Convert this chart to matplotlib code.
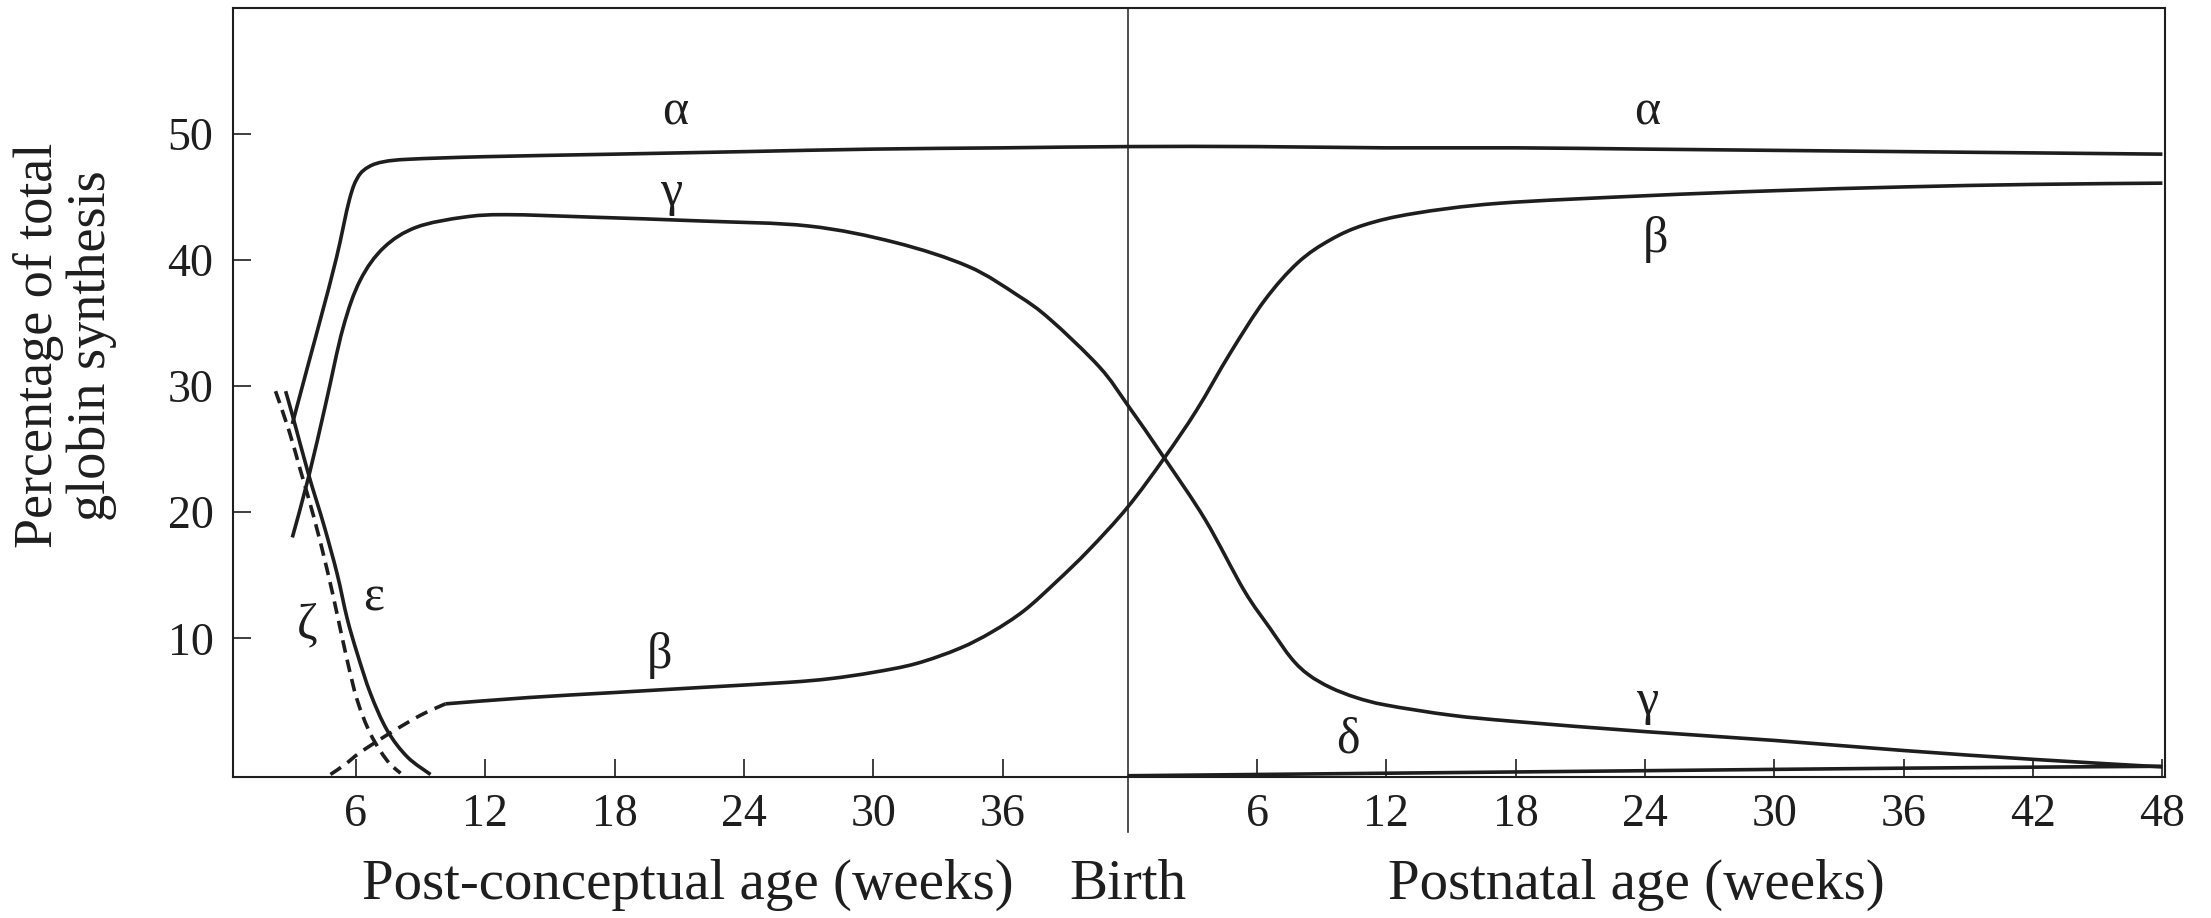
import matplotlib
matplotlib.use("Agg")
import matplotlib.pyplot as plt
import matplotlib.transforms as mtransforms
from matplotlib.path import Path
from matplotlib.patches import PathPatch

plt.rcParams['font.family'] = ['Liberation Serif', 'DejaVu Serif']

# birth position on the post-conceptual week scale
BIRTH = 41.8

# alpha chain
alpha_pre_x = [3.05, 3.8, 4.4, 5.1, 5.7, 6.1, 6.6, 7.3, 8.5, 12, 18, 24, 30, 36, 41.8]
alpha_pre_y = [27.0, 31.8, 35.6, 40.2, 44.8, 46.6, 47.4, 47.8, 48.0, 48.2, 48.4, 48.6, 48.8, 48.9, 49.0]
alpha_post_wk = [0, 6, 12, 18, 24, 30, 36, 42, 48]
alpha_post_y = [49.0, 49.0, 48.9, 48.9, 48.8, 48.7, 48.6, 48.5, 48.4]

# gamma chain
gamma_pre_x = [3.05, 3.82, 4.6, 5.4, 6.2, 7.3, 8.8, 11.0, 13, 17, 22, 27, 31, 34.4, 36.7, 38.2, 40.5, 41.8]
gamma_pre_y = [18.0, 22.9, 28.6, 34.6, 38.4, 41.0, 42.6, 43.4, 43.6, 43.4, 43.1, 42.7, 41.4, 39.5, 37.2, 35.3, 31.5, 28.5]
gamma_post_wk = [0, 1.7, 3.6, 5.4, 6.6, 7.6, 8.4, 9.4, 10.6, 12, 15, 18, 24, 30, 36, 42, 48]
gamma_post_y = [28.5, 24.3, 19.4, 13.8, 10.8, 8.4, 7.1, 6.1, 5.3, 4.7, 3.9, 3.4, 2.6, 1.9, 1.1, 0.4, -0.2]

# beta chain (dashed at the start)
beta_dash_x = [4.82, 5.5, 6.2, 7.6, 9.0, 10.15]
beta_dash_y = [-0.8, 0.0, 0.95, 2.5, 3.9, 4.8]
beta_pre_x = [10.15, 14, 18, 22, 26, 28, 30, 32, 34, 35.5, 37, 38.5, 40, 41.8]
beta_pre_y = [4.8, 5.3, 5.7, 6.1, 6.5, 6.8, 7.3, 8.0, 9.2, 10.5, 12.2, 14.5, 17.0, 20.4]
beta_post_wk = [0, 1.7, 3.2, 4.75, 6.35, 7.9, 9.4, 11, 13.3, 17.2, 24, 30, 36, 42, 48]
beta_post_y = [20.4, 24.3, 28.1, 32.6, 36.8, 39.8, 41.6, 42.8, 43.7, 44.5, 45.1, 45.5, 45.8, 46.0, 46.1]

# embryonic chains
eps_x = [2.74, 3.12, 3.82, 4.51, 5.13, 5.59, 6.06, 6.68, 7.45, 8.38, 9.46]
eps_y = [29.6, 27.3, 22.9, 19.0, 15.1, 11.6, 8.8, 5.6, 2.7, 0.6, -0.8]
zeta_x = [2.27, 2.89, 3.43, 4.05, 4.67, 5.13, 5.59, 6.06, 6.68, 7.45, 8.07]
zeta_y = [29.6, 26.5, 23.3, 19.6, 15.4, 11.9, 8.3, 5.1, 2.4, 0.3, -0.7]

# delta chain (postnatal)
delta_post_wk = [0, 12, 24, 36, 48]
delta_post_y = [-0.9, -0.7, -0.5, -0.3, -0.15]

pre_ticks = [6, 12, 18, 24, 30, 36]
post_ticks = [6, 12, 18, 24, 30, 36, 42, 48]


def post(wk):
    return [BIRTH + w for w in wk]


def smooth_path(xs, ys):
    # Catmull-Rom through the read points, drawn as cubic Bezier segments
    pts = []
    for p in zip(xs, ys):
        if not pts or p != pts[-1]:
            pts.append(p)
    verts, codes = [pts[0]], [Path.MOVETO]
    n = len(pts)
    for i in range(n - 1):
        p0 = pts[i - 1] if i > 0 else pts[i]
        p1, p2 = pts[i], pts[i + 1]
        p3 = pts[i + 2] if i + 2 < n else pts[i + 1]
        c1 = (p1[0] + (p2[0] - p0[0]) / 6, p1[1] + (p2[1] - p0[1]) / 6)
        c2 = (p2[0] - (p3[0] - p1[0]) / 6, p2[1] - (p3[1] - p1[1]) / 6)
        verts += [c1, c2, p2]
        codes += [Path.CURVE4] * 3
    return Path(verts, codes)


ink = '#1e1e1e'
lw = 2.6

fig = plt.figure(figsize=(22.11, 9.18), dpi=100)
ax = fig.add_axes([0.1054, 0.1536, 0.8736, 0.8378])


def curve(xs, ys, **kw):
    ax.add_patch(PathPatch(smooth_path(xs, ys), fill=False, edgecolor=ink, lw=lw,
                           capstyle='butt', joinstyle='round', **kw))


curve(alpha_pre_x + post(alpha_post_wk), alpha_pre_y + alpha_post_y)
curve(gamma_pre_x + post(gamma_post_wk), gamma_pre_y + gamma_post_y)
curve(beta_pre_x + post(beta_post_wk), beta_pre_y + beta_post_y)
curve(beta_dash_x, beta_dash_y, linestyle=(0, (3.5, 2.2)))
curve(eps_x, eps_y)
curve(zeta_x, zeta_y, linestyle=(0, (3.5, 2.0)))
curve(post(delta_post_wk), delta_post_y)

# birth line, running down into the tick label row
trans = mtransforms.blended_transform_factory(ax.transData, ax.transAxes)
ax.plot([BIRTH, BIRTH], [-0.072, 1], color=ink, lw=1.1, transform=trans, clip_on=False)

ax.set_xlim(0.3, 89.9)
ax.set_ylim(-1.0, 60.0)

ax.set_xticks(pre_ticks + post(post_ticks))
ax.set_xticklabels([str(t) for t in pre_ticks] + [str(t) for t in post_ticks])
ax.set_yticks([10, 20, 30, 40, 50])
ax.tick_params(direction='in', length=13, width=1.2, labelsize=33, colors=ink)
ax.tick_params(axis='x', pad=12)
ax.tick_params(axis='y', pad=14)
for s in ax.spines.values():
    s.set_linewidth(1.5)
    s.set_color(ink)

lab = dict(fontsize=41, color=ink, ha='center', va='center')
ax.text(21.4, -0.14, 'Post-conceptual age (weeks)', transform=trans, **lab)
ax.text(BIRTH, -0.14, 'Birth', transform=trans, **lab)
ax.text(BIRTH + 23.6, -0.14, 'Postnatal age (weeks)', transform=trans, **lab)

ylab = dict(fontsize=39, color=ink, ha='center', va='center', rotation=90)
fig.text(0.0175, 0.624, 'Percentage of total', **ylab)
fig.text(0.0415, 0.624, 'globin synthesis', **ylab)

# curve labels
g = dict(fontsize=36, color=ink, ha='center', va='center')
ax.text(20.8, 51.7, 'α', **g)
ax.text(BIRTH + 24.1, 51.7, 'α', **g)
ax.text(20.6, 45.3, 'γ', **g)
ax.text(BIRTH + 24.5, 41.6, 'β', **g)
ax.text(20.1, 8.6, 'β', **g)
ax.text(BIRTH + 24.1, 5.0, 'γ', **g)
ax.text(BIRTH + 10.2, 1.9, 'δ', **g)
ax.text(3.75, 11.0, 'ζ', **g)
ax.text(6.8, 13.2, 'ε', **g)

fig.savefig('out.png', dpi=100)
